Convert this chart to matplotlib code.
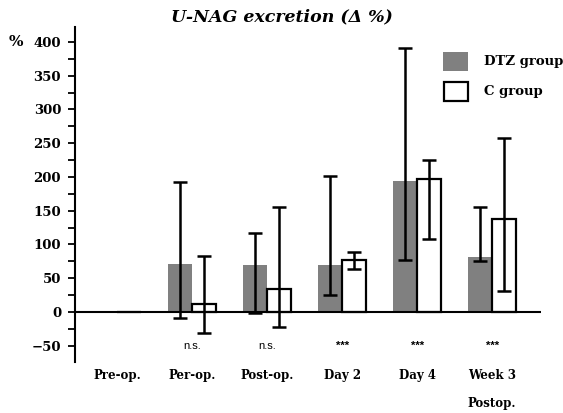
import matplotlib
matplotlib.use("Agg")
import matplotlib.pyplot as plt
import numpy as np
from matplotlib.ticker import MultipleLocator
from matplotlib.patches import Rectangle

categories = ["Pre-op.", "Per-op.", "Post-op.", "Day 2", "Day 4", "Week 3"]
dtz_mean = [np.nan, 71, 70, 70, 194, 82]
dtz_upper = [np.nan, 193, 117, 202, 391, 155]
dtz_lower = [np.nan, -9, -2, 25, 77, 75]
c_mean = [np.nan, 12, 34, 77, 197, 138]
c_upper = [np.nan, 83, 156, 89, 225, 257]
c_lower = [np.nan, -31, -22, 63, 108, 31]
significance = ["", "n.s.", "n.s.", "***", "***", "***"]
yticks = [-50, 0, 50, 100, 150, 200, 250, 300, 350, 400]

serif = "DejaVu Serif"
fig = plt.figure(figsize=(5.63, 4.13), dpi=100)
ax = fig.add_axes([0.1332, 0.1235, 0.8278, 0.8111])

x = np.arange(len(categories))
w = 0.32
dm = np.array(dtz_mean, dtype=float)
cm = np.array(c_mean, dtype=float)
ax.bar(x - w / 2, np.nan_to_num(dm), width=w, color="#808080", edgecolor="none", zorder=2)
ax.bar(x + w / 2, np.nan_to_num(cm), width=w, color="white", edgecolor="black", linewidth=1.6, zorder=2)
derr = np.array([dm - np.array(dtz_lower, float), np.array(dtz_upper, float) - dm])
cerr = np.array([cm - np.array(c_lower, float), np.array(c_upper, float) - cm])
ax.errorbar(x - w / 2, dm, yerr=derr, fmt="none", ecolor="black", elinewidth=1.8, capsize=4.7, capthick=1.8, zorder=3)
ax.errorbar(x + w / 2, cm, yerr=cerr, fmt="none", ecolor="black", elinewidth=1.8, capsize=4.7, capthick=1.8, zorder=3)

ax.axhline(0, color="black", linewidth=1.5, zorder=4)
ax.set_xlim(-0.56, 5.65)
ax.set_ylim(-74, 422)
for s in ["top", "right", "bottom"]:
    ax.spines[s].set_visible(False)
ax.spines["left"].set_linewidth(1.5)
ax.set_yticks(yticks)
ax.yaxis.set_minor_locator(MultipleLocator(25))
ax.tick_params(axis="y", which="both", direction="out", length=5, width=1.3, pad=5)
ax.tick_params(axis="y", which="major", labelsize=9.5)
for lab in ax.get_yticklabels():
    lab.set_fontfamily(serif)
    lab.set_fontweight("bold")
ax.set_xticks(x)
ax.set_xticklabels(categories, fontfamily=serif, fontweight="bold", fontsize=8.5)
ax.tick_params(axis="x", length=0, pad=5)

for xi, s in zip(x, significance):
    if s:
        ax.text(xi, -50, s, ha="center", va="center", fontsize=8, family="Liberation Sans",
                fontweight="bold" if s.startswith("*") else "normal")

fig.text(0.016, 0.898, "%", fontsize=11, fontweight="bold", family=serif, ha="left", va="center")
fig.text(0.5, 0.958, "U-NAG excretion (Δ %)", fontsize=12.5, fontweight="bold", style="italic",
         family=serif, ha="center", va="center")
fig.text(492 / 563, 1 - 404 / 413, "Postop.", fontsize=8.5, fontweight="bold", family=serif, ha="center", va="center")

# legend
fig.patches.append(Rectangle((443 / 563, 1 - 71 / 413), 25 / 563, 19 / 413, transform=fig.transFigure,
                             facecolor="#808080", edgecolor="none"))
fig.patches.append(Rectangle((444 / 563, 1 - 101 / 413), 23.5 / 563, 19 / 413, transform=fig.transFigure,
                             facecolor="white", edgecolor="black", linewidth=1.6))
fig.text(484 / 563, 1 - 61 / 413, "DTZ group", fontsize=9.5, fontweight="bold", family=serif, ha="left", va="center")
fig.text(484 / 563, 1 - 91 / 413, "C group", fontsize=9.5, fontweight="bold", family=serif, ha="left", va="center")

fig.savefig("out.png", dpi=100)
